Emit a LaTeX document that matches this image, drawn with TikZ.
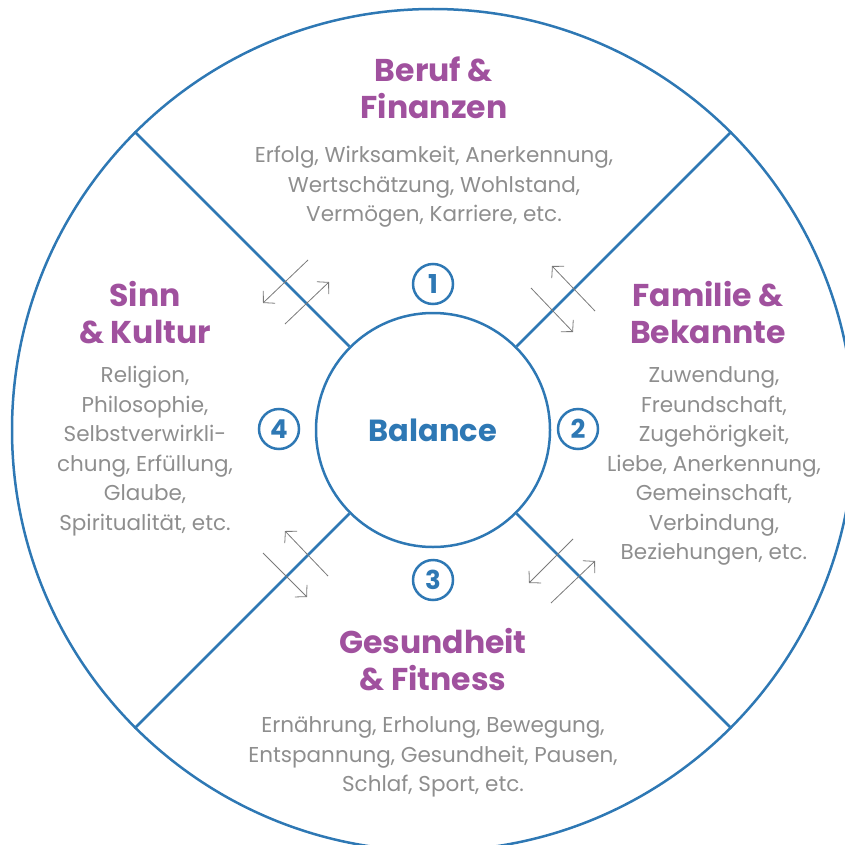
\documentclass[tikz,border=0pt]{standalone}
\usepackage{fontspec}
\setmainfont{Poppins}
\usetikzlibrary{arrows.meta}
\definecolor{wheelblue}{HTML}{2E78B4}
\definecolor{headpurple}{HTML}{A0519E}
\definecolor{bodygray}{HTML}{8E8E8E}
\definecolor{arrowgray}{HTML}{7A7A7A}
\tikzset{
  ring/.style={draw=wheelblue, line width=2.5pt, circle, inner sep=0pt},
  spoke/.style={draw=wheelblue, line width=2.5pt},
  heading/.style={text=headpurple, font=\fontsize{31.5}{37}\selectfont\bfseries, align=center},
  detail/.style={text=bodygray, font=\fontsize{21.5}{29.5}\selectfont, align=center},
  numring/.style={ring, minimum size=40pt, text=wheelblue, font=\fontsize{26}{26}\selectfont\bfseries},
  swap/.style={draw=arrowgray, line width=0.8pt, -{Straight Barb[length=8pt,width=17pt]}}
}

\begin{document}
\begin{tikzpicture}[x=1pt, y=-1pt]
		%%%%% START %%%%%
		\useasboundingbox (0,0) rectangle (844,845);
		
		\node[ring, minimum size=842pt] (wheel) at (433,430) {};
		\node[ring, minimum size=234pt, text=wheelblue, font=\fontsize{30.5}{30.5}\selectfont\bfseries] (balance) at (433,430) {Balance};
		
		\foreach \a in {45,135,225,315}
			\draw[spoke] (balance.\a) -- (wheel.\a);
		
		\node[numring] (num1) at (433,284) {1};
		\node[numring] (num2) at (578,429) {2};
		\node[numring] (num3) at (433,580) {3};
		\node[numring] (num4) at (279,429) {4};
		
		% pairs of arrows across the spokes
		\foreach \xa/\ya/\xb/\yb in {308/260/263/303, 285/324/329/282,
			595/311/552/266, 531/288/573/332,
			328/576/285/531, 263/553/307/597,
			573/539/529/583, 551/603/595/561}
			\draw[swap] (\xa,\ya) -- (\xb,\yb);
		
		\node[heading] (beruf) at (434,88) {Beruf \&\\Finanzen};
		\node[detail] (berufText) at (434,187) {Erfolg, Wirksamkeit, Anerkennung,\\Wertschätzung, Wohlstand,\\Vermögen, Karriere, etc.};
		
		\node[heading] (familie) at (708,313) {Familie \&\\Bekannte};
		\node[detail] (familieText) at (714,466) {Zuwendung,\\Freundschaft,\\Zugehörigkeit,\\Liebe, Anerkennung,\\Gemeinschaft,\\Verbindung,\\Beziehungen, etc.};
		
		\node[heading] (gesundheit) at (433,660) {Gesundheit\\\& Fitness};
		\node[detail] (gesundheitText) at (433,757) {Ernährung, Erholung, Bewegung,\\Entspannung, Gesundheit, Pausen,\\Schlaf, Sport, etc.};
		
		\node[heading] (sinn) at (145,313) {Sinn\\\& Kultur};
		\node[detail] (sinnText) at (145,451) {Religion,\\Philosophie,\\Selbstverwirkli-\\chung, Erfüllung,\\Glaube,\\Spiritualität, etc.};
		
		%%%%% END %%%%%
	\end{tikzpicture}
\end{document}
